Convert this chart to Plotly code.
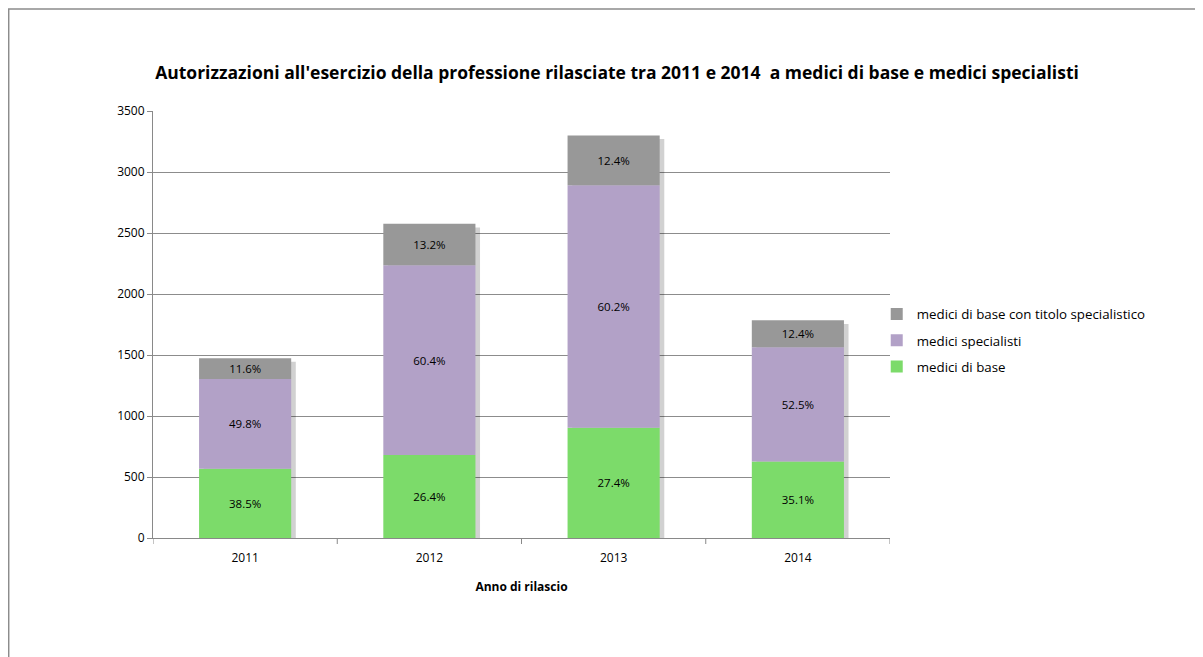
import plotly.graph_objects as go

years = ["2011", "2012", "2013", "2014"]
medici_base = [568, 680, 904, 627]
medici_specialisti = [735, 1555, 1987, 937]
medici_base_titolo = [171, 340, 409, 221]
pct_base = ["38.5%", "26.4%", "27.4%", "35.1%"]
pct_spec = ["49.8%", "60.4%", "60.2%", "52.5%"]
pct_titolo = ["11.6%", "13.2%", "12.4%", "12.4%"]
y_ticks = [0, 500, 1000, 1500, 2000, 2500, 3000, 3500]

FONT = "Open Sans"
totals = [a + b + c for a, b, c in zip(medici_base, medici_specialisti, medici_base_titolo)]
base2 = list(medici_base)
base3 = [a + b for a, b in zip(medici_base, medici_specialisti)]

FW, FH = 1195, 649
ML, MR, MT, MB = 145, 313, 103, 119
PW = FW - ML - MR
PH = FH - MT - MB

W = 0.5
OFF = -0.25
fig = go.Figure()
# soft shadow behind bars
fig.add_trace(go.Bar(x=years, y=totals, base=[-30] * 4, width=W, offset=OFF + 0.025,
                     marker=dict(color="rgba(0,0,0,0.18)", line=dict(width=0)),
                     showlegend=False, hoverinfo="skip"))
lab = dict(family=FONT, size=11.5, color="#000000")
fig.add_trace(go.Bar(x=years, y=medici_base, base=[0] * 4, width=W, offset=OFF,
                     name="medici di base", legendgroup="a", legendrank=3,
                     marker=dict(color="#7CDB6A", line=dict(width=0)),
                     text=pct_base, textposition="inside", insidetextanchor="middle",
                     textfont=lab))
fig.add_trace(go.Bar(x=years, y=medici_specialisti, base=base2, width=W, offset=OFF,
                     name="medici specialisti", legendgroup="b", legendrank=2,
                     marker=dict(color="#B2A1C7", line=dict(width=0)),
                     text=pct_spec, textposition="inside", insidetextanchor="middle",
                     textfont=lab))
fig.add_trace(go.Bar(x=years, y=medici_base_titolo, base=base3, width=W, offset=OFF,
                     name="medici di base con titolo specialistico", legendgroup="c", legendrank=1,
                     marker=dict(color="#989898", line=dict(width=0)),
                     text=pct_titolo, textposition="inside", insidetextanchor="middle",
                     textfont=lab))

fig.update_layout(
    width=FW, height=FH,
    barmode="overlay",
    paper_bgcolor="white", plot_bgcolor="white",
    margin=dict(l=ML, r=MR, t=MT, b=MB),
    font=dict(family=FONT, size=12, color="#000000"),
    title=dict(text="<b>Autorizzazioni all'esercizio della professione rilasciate tra 2011 e 2014  a medici di base e medici specialisti</b>",
               x=609 / FW, xanchor="center", y=1 - 65 / FH, yanchor="middle",
               font=dict(family=FONT, size=17.5, color="#000000")),
    legend=dict(x=0.982, xanchor="left", y=0.56, yanchor="top",
                traceorder="grouped", tracegroupgap=6,
                font=dict(family=FONT, size=13.3, color="#000000"),
                bgcolor="rgba(0,0,0,0)"),
    xaxis=dict(type="category", showgrid=False, showline=True, linecolor="#898989",
               linewidth=1, ticks="", tickfont=dict(size=12),
               ticklabelstandoff=9,
               range=[-0.5, 3.5],
               title=dict(text="<b>Anno di rilascio</b>", font=dict(size=12), standoff=17)),
    yaxis=dict(range=[0, 3500], tickvals=y_ticks, showgrid=True, gridcolor="#8C8C8C",
               gridwidth=1, showline=True, linecolor="#898989", linewidth=1,
               ticks="outside", ticklen=5, tickcolor="#898989",
               tickfont=dict(size=12), zeroline=False),
    shapes=[
        dict(type="rect", xref="paper", yref="paper",
             x0=(0.7 - ML) / PW, x1=(FW + 20 - ML) / PW,
             y0=-(MB + 20) / PH, y1=(PH + MT - 1) / PH,
             line=dict(color="#8C8C8C", width=1.5), fillcolor="rgba(0,0,0,0)", layer="below"),
    ],
)
# category boundary tick marks on the x axis
for i in range(len(years) + 1):
    fig.add_shape(type="line", xref="x", yref="paper", x0=i - 0.5, x1=i - 0.5,
                  y0=0, y1=-6 / PH, line=dict(color="#898989", width=1))

fig.write_html("out.html")
